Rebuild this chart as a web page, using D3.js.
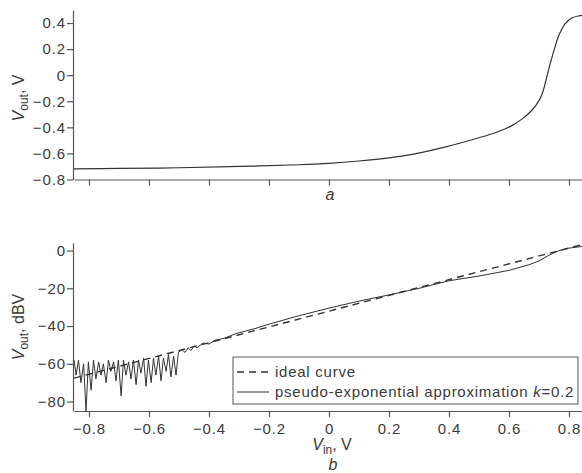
<!DOCTYPE html>
<html>
<head>
<meta charset="utf-8">
<script src="https://cdn.jsdelivr.net/npm/d3@7"></script>
<style>
body { margin: 0; background: #fff; }
svg { display: block; }
text { font-family: "Liberation Sans", Arial, sans-serif; fill: #3a3a3a; }
.axis path, .axis line { stroke: #555; stroke-width: 1.2; }
.axis text { font-size: 15px; letter-spacing: 0.9px; }
</style>
</head>
<body>
<svg width="582" height="473"></svg>
<script>
// panel a: Vout (V) vs Vin (V)
var topVin  = [-0.85, -0.7, -0.5, -0.3, -0.1, 0, 0.1, 0.2, 0.278, 0.389, 0.5, 0.556, 0.611, 0.644, 0.678, 0.7, 0.711, 0.722, 0.733, 0.75, 0.767, 0.789, 0.811, 0.833, 0.85];
var topVout = [-0.718, -0.715, -0.71, -0.70, -0.687, -0.676, -0.658, -0.634, -0.607, -0.55, -0.48, -0.44, -0.385, -0.335, -0.265, -0.195, -0.14, -0.05, 0.05, 0.19, 0.31, 0.40, 0.44, 0.455, 0.46];

// panel b: ideal curve (dBV)
var idealVin = [-0.85, 0.85];
var idealDb  = [-67.6, 3.4];

// panel b: pseudo-exponential approximation, noisy low end
var noiseVin = [-0.85, -0.843, -0.835, -0.827, -0.818, -0.81, -0.802, -0.793, -0.785, -0.777, -0.768, -0.76, -0.752, -0.743, -0.735, -0.727, -0.718, -0.71, -0.702, -0.693, -0.685, -0.677, -0.668, -0.66, -0.652, -0.643, -0.635, -0.627, -0.618, -0.61, -0.602, -0.593, -0.585, -0.577, -0.568, -0.56, -0.552, -0.543, -0.535, -0.527, -0.518, -0.51, -0.502];
var noiseDb  = [-58, -66, -58, -70, -60, -85, -59, -74, -58, -68, -59, -66, -60, -70, -58, -64, -59, -69, -58, -77, -58, -66, -59, -68, -58, -71, -58, -65, -57, -72, -58, -70, -57, -66, -56, -69, -57, -64, -55, -67, -56, -66, -54];
// rest of the approximation
var approxVin = [-0.49, -0.48, -0.47, -0.46, -0.45, -0.44, -0.42, -0.4, -0.38, -0.35, -0.31, -0.25, -0.2, -0.1, 0, 0.1, 0.2, 0.3, 0.4, 0.5, 0.6, 0.667, 0.7, 0.733, 0.767, 0.8, 0.85];
var approxDb  = [-52.5, -54, -51.5, -53, -50.5, -51.5, -49, -49.5, -47.5, -46.5, -44, -41.5, -39, -34.5, -30.5, -26.8, -23.5, -20, -16, -13.5, -10.5, -7.5, -5.5, -2.5, 0, 1.3, 2.3];

var xTicks = [-0.8, -0.6, -0.4, -0.2, 0, 0.2, 0.4, 0.6, 0.8];
var topTicks = [-0.8, -0.6, -0.4, -0.2, 0, 0.2, 0.4];
var botTicks = [-80, -60, -40, -20, 0];

var svg = d3.select("svg");
var fmt = function(d) { return d === 0 ? "0" : d3.format(".1f")(d); };
var fmtInt = d3.format("d");

var x = d3.scaleLinear().domain([-0.85, 0.85]).range([74, 584]);
var yTop = d3.scaleLinear().domain([-0.8, 0.5]).range([179.5, 10]);
var yBot = d3.scaleLinear().domain([-85, 4]).range([411, 243]);

// ---- panel a ----
svg.append("g").attr("class", "axis")
  .attr("transform", "translate(0,179.5)")
  .call(d3.axisBottom(x).tickValues(xTicks).tickFormat("").tickSize(6).tickSizeOuter(0));

svg.append("g").attr("class", "axis")
  .attr("transform", "translate(73,0)")
  .call(d3.axisLeft(yTop).tickValues(topTicks).tickFormat(fmt).tickSize(6).tickPadding(1).tickSizeOuter(0));

var lineTop = d3.line()
  .x(function(d) { return x(d[0]); })
  .y(function(d) { return yTop(d[1]); })
  .curve(d3.curveCatmullRom);

svg.append("path")
  .datum(topVin.map(function(v, i) { return [v, topVout[i]]; }))
  .attr("fill", "none").attr("stroke", "#333").attr("stroke-width", 1.2)
  .attr("d", lineTop);

svg.append("text").attr("x", 330).attr("y", 200)
  .attr("text-anchor", "middle").style("font-size", "16px").style("font-style", "italic")
  .text("a");

var yl1 = svg.append("text").attr("transform", "translate(24,98) rotate(-90)")
  .attr("text-anchor", "middle").style("font-size", "16px");
yl1.append("tspan").style("font-style", "italic").text("V");
yl1.append("tspan").attr("dy", 4).style("font-size", "12px").text("out");
yl1.append("tspan").attr("dy", -4).text(", V");

// ---- panel b ----
svg.append("defs").append("clipPath").attr("id", "clipB")
  .append("rect").attr("x", 73).attr("y", 243).attr("width", 509).attr("height", 168);

svg.append("g").attr("class", "axis")
  .attr("transform", "translate(0,411)")
  .call(d3.axisBottom(x).tickValues(xTicks).tickFormat(fmt).tickSize(6).tickPadding(6).tickSizeOuter(0));

svg.append("g").attr("class", "axis")
  .attr("transform", "translate(73,0)")
  .call(d3.axisLeft(yBot).tickValues(botTicks).tickFormat(fmtInt).tickSize(6).tickPadding(1).tickSizeOuter(0));

var lineBot = d3.line()
  .x(function(d) { return x(d[0]); })
  .y(function(d) { return yBot(d[1]); });

svg.append("path")
  .datum(idealVin.map(function(v, i) { return [v, idealDb[i]]; }))
  .attr("clip-path", "url(#clipB)")
  .attr("fill", "none").attr("stroke", "#333").attr("stroke-width", 1.4)
  .attr("stroke-dasharray", "7,5")
  .attr("d", lineBot);

var approx = noiseVin.map(function(v, i) { return [v, noiseDb[i]]; })
  .concat(approxVin.map(function(v, i) { return [v, approxDb[i]]; }));

svg.append("path")
  .datum(approx)
  .attr("clip-path", "url(#clipB)")
  .attr("fill", "none").attr("stroke", "#333").attr("stroke-width", 1)
  .attr("d", lineBot);

// legend
var lg = svg.append("g");
lg.append("rect").attr("x", 233).attr("y", 357).attr("width", 345).attr("height", 47)
  .attr("fill", "#fff").attr("stroke", "#555").attr("stroke-width", 1);
lg.append("line").attr("x1", 237).attr("x2", 269).attr("y1", 372).attr("y2", 372)
  .attr("stroke", "#333").attr("stroke-width", 1.4).attr("stroke-dasharray", "7,5");
lg.append("line").attr("x1", 237).attr("x2", 269).attr("y1", 392).attr("y2", 392)
  .attr("stroke", "#333").attr("stroke-width", 1);
lg.append("text").attr("x", 275).attr("y", 377).style("font-size", "15px").style("letter-spacing", "0.75px")
  .text("ideal curve");
var lt = lg.append("text").attr("x", 275).attr("y", 397).style("font-size", "15px").style("letter-spacing", "0.75px");
lt.append("tspan").text("pseudo-exponential approximation ");
lt.append("tspan").style("font-style", "italic").text("k");
lt.append("tspan").text("=0.2");

var yl2 = svg.append("text").attr("transform", "translate(24,327) rotate(-90)")
  .attr("text-anchor", "middle").style("font-size", "16px");
yl2.append("tspan").style("font-style", "italic").text("V");
yl2.append("tspan").attr("dy", 4).style("font-size", "12px").text("out");
yl2.append("tspan").attr("dy", -4).text(", dBV");

var xl = svg.append("text").attr("x", 332).attr("y", 450)
  .attr("text-anchor", "middle").style("font-size", "16px");
xl.append("tspan").style("font-style", "italic").text("V");
xl.append("tspan").attr("dy", 4).style("font-size", "12px").text("in");
xl.append("tspan").attr("dy", -4).text(", V");

svg.append("text").attr("x", 333).attr("y", 470)
  .attr("text-anchor", "middle").style("font-size", "16px").style("font-style", "italic")
  .text("b");
</script>
</body>
</html>
